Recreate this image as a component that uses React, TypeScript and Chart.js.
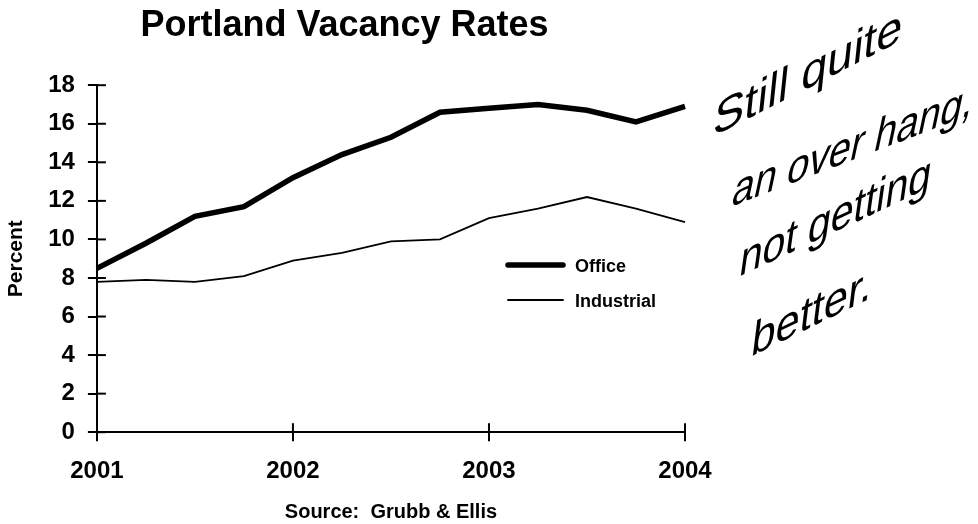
import React, { useEffect, useRef } from "react";
import { Chart, registerables } from "chart.js";

Chart.register(...registerables);

const chartTitle = "Portland Vacancy Rates";
const quarterLabels = [
  "2001", "2001 Q2", "2001 Q3", "2001 Q4",
  "2002", "2002 Q2", "2002 Q3", "2002 Q4",
  "2003", "2003 Q2", "2003 Q3", "2003 Q4",
  "2004",
];
const officeRates = [8.5, 9.8, 11.2, 11.7, 13.2, 14.4, 15.3, 16.6, 16.8, 17.0, 16.7, 16.1, 16.9];
const industrialRates = [7.8, 7.9, 7.8, 8.1, 8.9, 9.3, 9.9, 10.0, 11.1, 11.6, 12.2, 11.6, 10.9];
const seriesNames = ["Office", "Industrial"];
const yAxisTitle = "Percent";
const sourceNote = "Source:  Grubb & Ellis";
const noteLines = ["Still quite", "an over hang,", "not getting", "better."];

const FONT = "'Liberation Sans', Arial, sans-serif";

const isYear = (i: number) => !!quarterLabels[i] && quarterLabels[i].length === 4;

const innerTicks = {
  id: "innerTicks",
  afterDraw(chart: any) {
    const ctx = chart.ctx;
    const x = chart.scales.x;
    const y = chart.scales.y;
    ctx.save();
    ctx.strokeStyle = "#000";
    ctx.lineWidth = 2;
    y.ticks.forEach((t: any) => {
      const py = y.getPixelForValue(t.value);
      ctx.beginPath();
      ctx.moveTo(x.left, py);
      ctx.lineTo(x.left + 9, py);
      ctx.stroke();
    });
    quarterLabels.forEach((_l, i) => {
      if (!isYear(i) || i === 0) return;
      const px = x.getPixelForValue(i);
      ctx.beginPath();
      ctx.moveTo(px, y.bottom);
      ctx.lineTo(px, y.bottom - 9);
      ctx.stroke();
    });
    ctx.restore();
  },
};

const legendAndNote = {
  id: "legendAndNote",
  afterDraw(chart: any) {
    const ctx = chart.ctx;
    ctx.save();
    const items = [
      { name: seriesNames[0], w: 5.5, y: 265 },
      { name: seriesNames[1], w: 1.8, y: 300 },
    ];
    items.forEach((it) => {
      ctx.strokeStyle = "#000";
      ctx.lineWidth = it.w;
      ctx.lineCap = "round";
      ctx.beginPath();
      ctx.moveTo(508, it.y);
      ctx.lineTo(563, it.y);
      ctx.stroke();
      ctx.fillStyle = "#000";
      ctx.font = `bold 18px ${FONT}`;
      ctx.textBaseline = "middle";
      ctx.textAlign = "left";
      ctx.fillText(it.name, 575, it.y + 2);
    });
    // handwritten note
    const pos = [
      { x: 712, y: 137, a: -27, w: 212 },
      { x: 730, y: 207, a: -21, w: 258 },
      { x: 738, y: 277, a: -25, w: 211 },
      { x: 750, y: 357, a: -26, w: 134 },
    ];
    ctx.font = `300 36px ${FONT}`;
    ctx.textBaseline = "alphabetic";
    ctx.fillStyle = "#000";
    noteLines.forEach((line, i) => {
      const p = pos[i];
      const w0 = ctx.measureText(line).width;
      ctx.save();
      ctx.translate(p.x, p.y);
      ctx.rotate((p.a * Math.PI) / 180);
      ctx.transform(1, 0, -0.65, 1, 0, 0);
      ctx.scale(p.w / w0, 1.15);
      ctx.fillText(line, 0, 0);
      ctx.restore();
    });
    ctx.restore();
  },
};

export default function App() {
  const ref = useRef<HTMLCanvasElement | null>(null);
  useEffect(() => {
    if (!ref.current) return;
    const chart = new Chart(ref.current, {
      type: "line",
      data: {
        labels: quarterLabels,
        datasets: [
          {
            label: seriesNames[0],
            data: officeRates,
            borderColor: "#000",
            borderWidth: 5.5,
            pointRadius: 0,
            tension: 0,
            fill: false,
          },
          {
            label: seriesNames[1],
            data: industrialRates,
            borderColor: "#000",
            borderWidth: 1.8,
            pointRadius: 0,
            tension: 0,
            fill: false,
          },
        ],
      },
      options: {
        animation: false,
        responsive: false,
        maintainAspectRatio: false,
        layout: { padding: { top: 4, right: 293, left: 4, bottom: 0 } },
        plugins: {
          legend: { display: false },
          tooltip: { enabled: false },
          title: {
            display: true,
            text: chartTitle,
            color: "#000",
            font: { family: FONT, size: 36, weight: "bold" },
            padding: { top: 0, bottom: 38 },
          },
        },
        scales: {
          x: {
            type: "category",
            offset: false,
            grid: {
              drawOnChartArea: false,
              color: (c: any) => (isYear(c.index) ? "#000" : "rgba(0,0,0,0)"),
              lineWidth: 2,
              tickLength: 9,
            },
            border: { color: "#000", width: 2 },
            ticks: {
              autoSkip: false,
              maxRotation: 0,
              color: "#000",
              padding: 16,
              font: { family: FONT, size: 24, weight: "bold" },
              callback: (_v: any, i: number) => (isYear(i) ? quarterLabels[i] : ""),
            },
            title: {
              display: true,
              text: sourceNote,
              color: "#000",
              font: { family: FONT, size: 20, weight: "bold" },
              padding: { top: -2, bottom: 0 },
            },
          },
          y: {
            min: 0,
            max: 18,
            grid: {
              drawOnChartArea: false,
              color: "#000",
              lineWidth: 2,
              tickLength: 9,
            },
            border: { color: "#000", width: 2 },
            ticks: {
              stepSize: 2,
              color: "#000",
              padding: 13,
              font: { family: FONT, size: 24, weight: "bold" },
            },
            title: {
              display: true,
              text: yAxisTitle,
              color: "#000",
              font: { family: FONT, size: 21, weight: "bold" },
              padding: { top: 0, bottom: 6 },
            },
          },
        },
      },
      plugins: [innerTicks, legendAndNote],
    });
    return () => chart.destroy();
  }, []);
  return (
    <div style={{ position: "absolute", left: 0, top: 0, width: 978, height: 524, background: "#fff" }}>
      <canvas ref={ref} width={978} height={524} style={{ width: 978, height: 524, display: "block" }} />
    </div>
  );
}
